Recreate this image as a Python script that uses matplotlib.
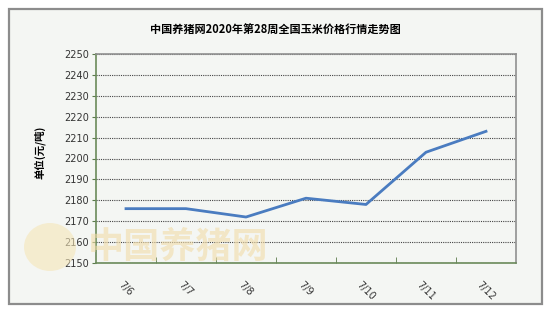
import matplotlib.pyplot as plt
from matplotlib.patches import Rectangle, Ellipse

plt.rcParams['font.family'] = ['Noto Sans CJK SC', 'DejaVu Sans']

dates = ['7/6', '7/7', '7/8', '7/9', '7/10', '7/11', '7/12']
prices = [2176, 2176, 2172, 2181, 2178, 2203, 2213]
yticks = list(range(2150, 2251, 10))

fig = plt.figure(figsize=(5.5, 3.13), dpi=100)
fig.patch.set_facecolor('white')

# outer frame
fig.patches.append(Rectangle((9 / 550, 1 - 304 / 313), 533 / 550, 295 / 313, transform=fig.transFigure,
                             facecolor='#f4f6f3', edgecolor='#8c8c8c', linewidth=1.6, zorder=-2))

ax = fig.add_axes([96 / 550, 1 - 263 / 313, 420 / 550, 209 / 313])
ax.set_facecolor('#f4f6f3')
x = list(range(len(dates)))
ax.plot(x, prices, color='#4a7cc0', linewidth=2, zorder=3)

ax.set_xlim(-0.5, len(dates) - 0.5)
ax.set_ylim(2150, 2250)
ax.set_yticks(yticks)
ax.set_yticklabels([str(v) for v in yticks], fontsize=7, family='DejaVu Sans', color='#333333')
ax.set_xticks(x)
ax.set_xticklabels(dates, fontsize=7, family='DejaVu Sans', rotation=-45, ha='center', va='top', color='#333333')
ax.tick_params(axis='x', length=0, pad=12)
ax.set_xticks([i + 0.5 for i in range(len(dates) - 1)], minor=True)
ax.tick_params(axis='x', which='minor', length=4, direction='in', color='#5a7a4a')
ax.tick_params(axis='y', length=3, direction='out', color='#5a7a4a', pad=2)
ax.grid(axis='y', linestyle=(0, (1, 1)), color='#444444', linewidth=0.8)

ax.spines['left'].set_color('#6a8a5a')
ax.spines['bottom'].set_color('#6a8a5a')
ax.spines['top'].set_color('#909090')
ax.spines['right'].set_color('#909090')
for s in ax.spines.values():
    s.set_linewidth(1.2)

fig.text(275 / 550, 1 - 30 / 313, '中国养猪网2020年第28周全国玉米价格行情走势图', ha='center', va='center',
         fontsize=8, fontweight='bold')
fig.text(40 / 550, 1 - 152 / 313, '单位(元/吨)', rotation=90, ha='center', va='center',
         fontsize=7.5, fontweight='bold')

# faint watermark
fig.text(88 / 550, 1 - 247 / 313, '中国养猪网', ha='left', va='center', fontsize=26, fontweight='bold',
         color='#f2dca8', alpha=0.6, zorder=5)
fig.patches.append(Ellipse((50 / 550, 1 - 247 / 313), 52 / 550, 48 / 313, transform=fig.transFigure,
                           facecolor='#f5e6b8', edgecolor='none', alpha=0.6, zorder=5))

fig.savefig('out.png', dpi=100, facecolor=fig.get_facecolor())
